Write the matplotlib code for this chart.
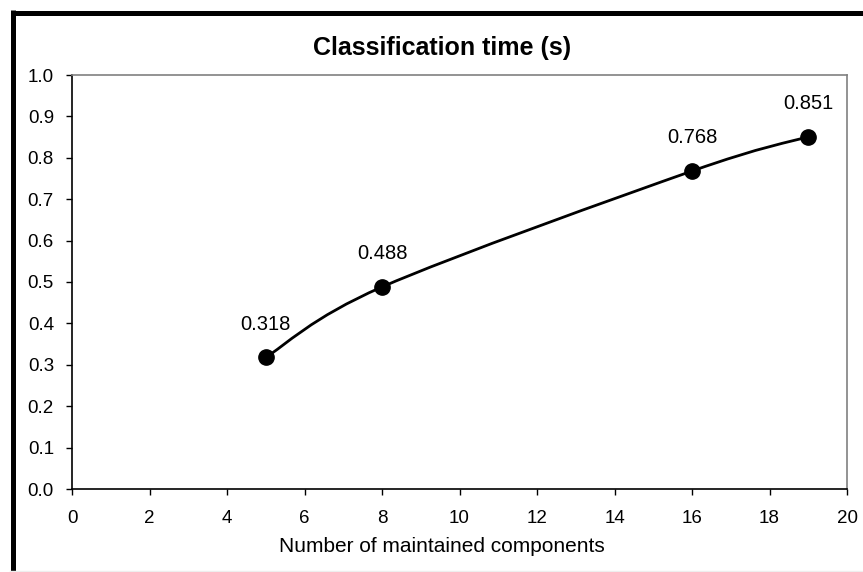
import numpy as np
import matplotlib.pyplot as plt
from matplotlib.path import Path
from matplotlib.patches import PathPatch
from matplotlib.lines import Line2D

# data
components = [5, 8, 16, 19]
times = [0.318, 0.488, 0.768, 0.851]
labels = ["0.318", "0.488", "0.768", "0.851"]

plt.rcParams['font.family'] = ['Liberation Sans', 'DejaVu Sans']

W, H = 863, 572
fig = plt.figure(figsize=(W / 100, H / 100), dpi=100)
ax = fig.add_axes([72 / W, 1 - 489 / H, (847 - 72) / W, (489 - 75) / H])

# Excel-like smoothed line: Catmull-Rom spline turned into cubic Bezier segments
def smooth_path(xs, ys):
    p = np.column_stack([xs, ys]).astype(float)
    pts = np.vstack([p[0], p, p[-1]])
    verts = [tuple(p[0])]
    codes = [Path.MOVETO]
    for i in range(1, len(pts) - 2):
        p0, p1, p2, p3 = pts[i - 1], pts[i], pts[i + 1], pts[i + 2]
        c1 = p1 + (p2 - p0) / 6.0
        c2 = p2 - (p3 - p1) / 6.0
        verts += [tuple(c1), tuple(c2), tuple(p2)]
        codes += [Path.CURVE4] * 3
    return Path(verts, codes)

ax.add_patch(PathPatch(smooth_path(components, times), facecolor='none',
                       edgecolor='black', linewidth=2.0, zorder=3))
ax.plot(components, times, 'o', color='black', markersize=11, zorder=4)

for x, y, t in zip(components, times, labels):
    ax.annotate(t, (x, y), xytext=(0, 24), textcoords='offset points',
                ha='center', va='center', fontsize=14.5)

ax.set_xlim(0, 20)
ax.set_ylim(0, 1.0)
ax.set_xticks(np.arange(0, 21, 2))
ax.set_yticks(np.arange(0, 1.01, 0.1))
ax.set_yticklabels(["%.1f" % v for v in np.arange(0, 1.01, 0.1)])
ax.tick_params(axis='both', labelsize=13.5, length=4, width=1, color='black',
               direction='out')
ax.tick_params(axis='x', pad=11)
ax.tick_params(axis='y', pad=9)

ax.spines['left'].set_color('black')
ax.spines['bottom'].set_color('black')
ax.spines['top'].set_color('#808080')
ax.spines['right'].set_color('#808080')
for s in ax.spines.values():
    s.set_linewidth(1.2)

fig.text(442 / W, 1 - 552 / H, "Number of maintained components",
         ha='center', va='baseline', fontsize=15)
fig.text(442 / W, 1 - 55 / H, "Classification time (s)", ha='center',
         va='baseline', fontsize=18, fontweight='bold')

# thick chart border (top and left) as in the original
fig.add_artist(Line2D([12.5 / W, 1.0], [1 - 12.5 / H, 1 - 12.5 / H],
                      color='black', linewidth=3.6, transform=fig.transFigure,
                      solid_capstyle='butt'))
fig.add_artist(Line2D([12.5 / W, 12.5 / W], [0, 1 - 10 / H],
                      color='black', linewidth=3.6, transform=fig.transFigure,
                      solid_capstyle='butt'))
fig.add_artist(Line2D([10 / W, 1.0], [1.5 / H, 1.5 / H], color='#eeeeee',
                      linewidth=1, transform=fig.transFigure))

fig.savefig("out.png", dpi=100)
